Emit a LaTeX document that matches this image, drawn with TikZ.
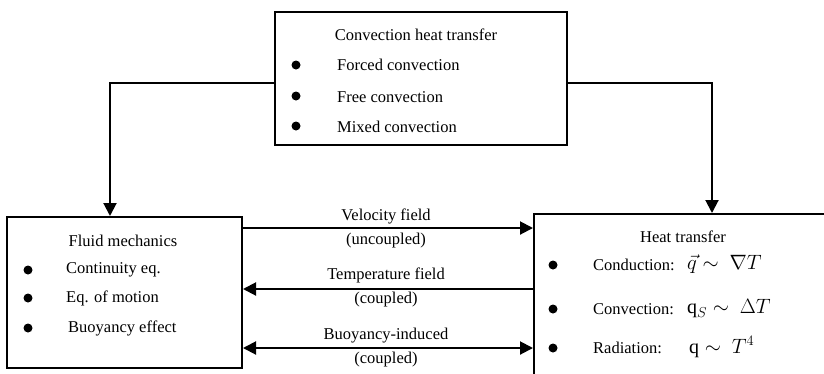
\documentclass[tikz,border=0pt]{standalone}
\usepackage{fontspec}
\setmainfont{Liberation Serif}
\usetikzlibrary{arrows.meta}
\begin{document}
\begin{tikzpicture}[x=1pt,y=-1pt,
  box/.style={draw, line width=2pt, rectangle, inner sep=0pt, anchor=north west},
  tip/.tip={Triangle[length=13pt,width=13pt]},
  arr/.style={line width=2pt, -tip},
  darr/.style={line width=2pt, tip-tip},
  txt/.style={font=\fontsize{16.5}{19}\selectfont, inner sep=0pt},
  item/.style={txt, anchor=west},
  mth/.style={item, font=\fontsize{20}{23}\selectfont},
  dot/.style={circle, fill, inner sep=0pt, minimum size=9pt}]
\useasboundingbox (0,0) rectangle (824,373);
\clip (0,0) rectangle (824,373);

% boxes
\node[box, minimum width=292pt, minimum height=133pt] (top) at (274,11) {};
\node[box, minimum width=235pt, minimum height=151pt] (fluid) at (6,216) {};
\node[box, minimum width=320pt, minimum height=190pt] (heat) at (533,213) {};

% column positions of the vertical connectors, rows of the horizontal ones
\coordinate (lx) at (110,0);
\coordinate (rx) at (712,0);
\coordinate (ya) at (0,228);
\coordinate (yb) at (0,289);
\coordinate (yc) at (0,348);

% top box contents
\node[txt] (tt) at (416,35) {Convection heat transfer};
\node[dot] (b1) at (296,65) {};
\node[dot] (b2) at (296,96) {};
\node[dot] (b3) at (296,126) {};
\node[item] (t1) at (337,65) {Forced convection};
\node[item] (t2) at (337,97) {Free convection};
\node[item] (t3) at (337,127) {Mixed convection};

% fluid mechanics box contents
\node[txt] (ft) at (123,241) {Fluid mechanics};
\node[dot] (f1d) at (28,270) {};
\node[dot] (f2d) at (28,298) {};
\node[dot] (f3d) at (28,328) {};
\node[item] (f1) at (66,270) {Continuity eq.};
\node[item] (f2) at (66,298) {Eq. of motion};
\node[item] (f3) at (68,328) {Buoyancy effect};

% heat transfer box contents
\node[txt] (ht) at (683,237) {Heat transfer};
\node[dot] (h1d) at (553,265) {};
\node[dot] (h2d) at (553,309) {};
\node[dot] (h3d) at (553,348) {};
\node[item] (h1) at (593,265) {Conduction:};
\node[item] (h2) at (593,309) {Convection:};
\node[item] (h3) at (593,348) {Radiation:};
\node[mth] (m1) at (687,264) {$\vec{q}\sim\ \nabla T$};
\node[mth] (m2) at (687,309) {$\mathrm{q}_{S}\sim\ \Delta T$};
\node[mth] (m3) at (689,347) {$\mathrm{q}\sim\ T^{4}$};

% connectors from the top box
\draw[arr] ([yshift=-4.5pt]top.west) -| (fluid.north -| lx);
\draw[arr] ([yshift=-4.5pt]top.east) -| (heat.north -| rx);

% coupling arrows between the two lower boxes
\draw[arr] (fluid.east |- ya) -- (heat.west |- ya);
\draw[arr] (heat.west |- yb) -- (fluid.east |- yb);
\draw[darr] (fluid.east |- yc) -- (heat.west |- yc);

% labels of the coupling arrows
\node[txt] (la1) at (386,216) {Velocity field};
\node[txt] (la2) at (386,241) {(uncoupled)};
\node[txt] (lb1) at (386,275) {Temperature field};
\node[txt] (lb2) at (386,300) {(coupled)};
\node[txt] (lc1) at (386,336) {Buoyancy-induced};
\node[txt] (lc2) at (386,360) {(coupled)};
\end{tikzpicture}
\end{document}
